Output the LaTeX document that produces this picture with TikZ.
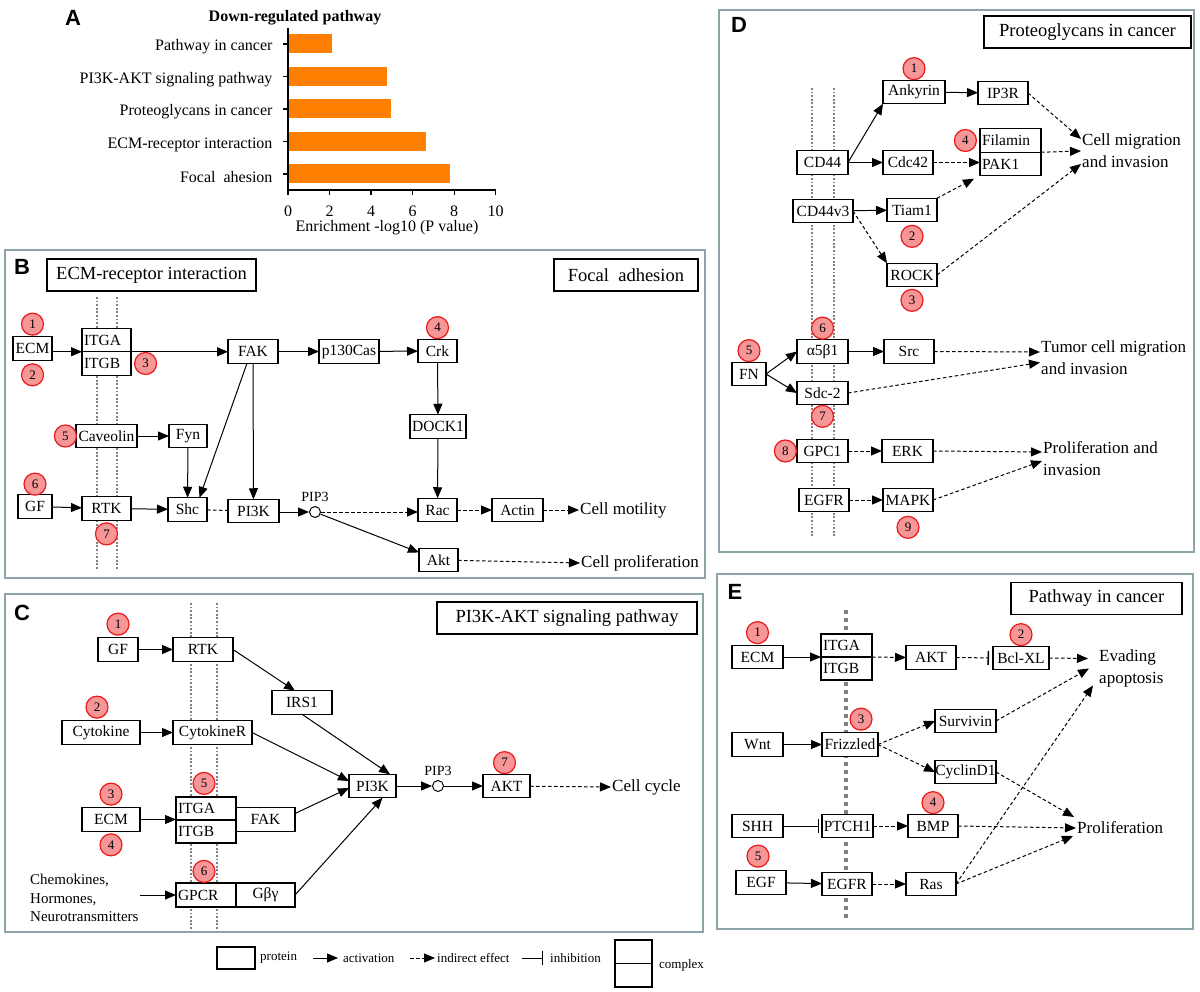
\documentclass[tikz,border=0pt]{standalone}
\usepackage{fontspec}
\setmainfont{Liberation Serif}
\newfontfamily\sansbold{Liberation Sans}
\usetikzlibrary{positioning,arrows.meta}

\definecolor{barorange}{RGB}{255,128,0}
\definecolor{framegray}{RGB}{140,163,168}
\definecolor{badgefill}{RGB}{246,150,150}
\definecolor{badgeline}{RGB}{235,25,25}

\newcommand{\boxfont}{\fontsize{15.5}{17}\selectfont}
\newcommand{\ttlfont}{\fontsize{18.5}{20}\selectfont}
\newcommand{\outfont}{\fontsize{17}{22}\selectfont}
\newcommand{\pipfont}{\fontsize{14}{16}\selectfont}
\newcommand{\legfont}{\fontsize{13}{14}\selectfont}
\newcommand{\chartfont}{\fontsize{16}{18}\selectfont}
\newcommand{\badgefont}{\fontsize{13}{13}\selectfont}

\begin{document}
\begin{tikzpicture}
  [x=1pt,y=-1pt,
   prot/.style={draw,fill=white,line width=1.4pt,minimum width=#1,minimum height=23.5pt,inner sep=0pt,outer sep=0pt,font=\boxfont},
   prot/.default=40pt,
   cpx/.style={draw,fill=white,line width=1.4pt,text width=#1,align=left,minimum height=23.5pt,inner xsep=2pt,inner ysep=0pt,outer sep=0pt,font=\boxfont},
   badge/.style={circle,draw=badgeline,fill=badgefill,line width=1.2pt,minimum size=22pt,inner sep=0pt,font=\badgefont},
   pip/.style={circle,draw,fill=white,line width=1pt,minimum size=11pt,inner sep=0pt},
   memb/.style={draw=gray,line width=1.8pt,dash pattern=on 1.8pt off 1.8pt},
   membE/.style={draw=gray,line width=4pt,dash pattern=on 4pt off 4pt},
   act/.style={line width=1pt,-{Triangle[length=11pt,width=9pt]}},
   ind/.style={line width=1pt,dash pattern=on 3.5pt off 2.5pt,-{Triangle[length=11pt,width=9pt]}},
   inh/.style={line width=1pt,-{Bar[width=14pt,line width=1.5pt]}},
   dashlink/.style={line width=1pt,dash pattern=on 3.5pt off 2.5pt},
   outtxt/.style={anchor=west,inner sep=1pt,align=left,font=\outfont},
   titlebox/.style={draw,line width=1.5pt,minimum height=32pt,inner sep=0pt,font=\ttlfont},
   panel/.style={draw=framegray,line width=1.6pt},
   letter/.style={font={\sansbold\bfseries\fontsize{22}{22}\selectfont}}]

  \useasboundingbox[fill=white] (0,0) rectangle (1200,992);

  % ---------------- A: bar chart
  \node[letter] (lA) at (73,18) {A};
  \node[font={\bfseries\fontsize{16}{18}\selectfont}] (ttlA) at (295,18) {Down-regulated pathway};
  \foreach \lab/\val [count=\i from 0] in {Pathway in cancer/2.1, PI3K-AKT signaling pathway/4.75,
      Proteoglycans in cancer/4.95, ECM-receptor interaction/6.65, Focal~~ahesion/7.8}{
    \fill[barorange] (288,{34.5+32.5*\i}) rectangle ({288+20.77*\val},{53.5+32.5*\i});
    \draw[line width=1.3pt] (283,{44+32.5*\i}) -- (288,{44+32.5*\i});
    \node[anchor=east,font=\chartfont] (catA\i) at (276,{47+32.5*\i}) {\lab};
  }
  \draw[line width=1.5pt] (288,28) -- (288,190) -- (496,190);
  \foreach \t in {0,2,...,10}{
    \draw[line width=1.3pt] ({288+20.77*\t},190) -- ({288+20.77*\t},195);
    \node[font=\chartfont] (tickA\t) at ({288+20.77*\t},211) {\t};
  }
  \node[font=\chartfont] (axA) at (387,228) {Enrichment -log10 (P value)};

  % ---------------- B: ECM-receptor interaction / focal adhesion
  \draw[panel] (5,250) rectangle (705,578);
  \node[letter] (lB) at (22,267) {B};
  \node[titlebox,minimum width=209pt] (ttlB) at (151.5,275) {ECM-receptor interaction};
  \node[titlebox,minimum width=144pt] (ttlB2) at (626,275) {Focal~~adhesion};
  \draw[memb] (97,297) -- (97,570);
  \draw[memb] (117,297) -- (117,570);

  \node[prot=39pt] (ecmB) at (32.5,348.5) {ECM};
  \node[cpx=45pt] (itgaB) at (106.5,340) {ITGA};
  \node[cpx=45pt,below=0pt of itgaB] (itgbB) {ITGB};
  \node[prot=50pt] (fakB) at (253,351.5) {FAK};
  \node[prot=60pt] (pcasB) at (349,351.5) {p130Cas};
  \node[prot=39pt] (crkB) at (437.5,351) {Crk};
  \node[prot=56pt] (dockB) at (438,426.5) {DOCK1};
  \node[prot=61pt] (cavB) at (106.5,436) {Caveolin};
  \node[prot=38pt] (fynB) at (188,436) {Fyn};
  \node[prot=34pt] (gfB) at (35,506.5) {GF};
  \node[prot=49pt] (rtkB) at (106.5,508.5) {RTK};
  \node[prot=39pt] (shcB) at (187.5,509.5) {Shc};
  \node[prot=51pt] (pikB) at (253.5,511) {PI3K};
  \node[pip,label={[font=\pipfont,inner sep=1pt,label distance=3pt]above:PIP3}] (pipB) at (315,512) {};
  \node[prot=39pt] (racB) at (437.5,510) {Rac};
  \node[prot=51pt] (actinB) at (517.5,510) {Actin};
  \node[prot=39pt] (aktB) at (438.5,560) {Akt};
  \node[outtxt] (motB) at (579,510) {Cell motility};
  \node[outtxt] (prolB) at (580,563) {Cell proliferation};

  \node[badge,above=1pt of ecmB] (b1B) {1};
  \node[badge,below=3pt of ecmB] (b2B) {2};
  \node[badge,right=3pt of itgbB] (b3B) {3};
  \node[badge,above=0pt of crkB] (b4B) {4};
  \node[badge,left=-1pt of cavB] (b5B) {5};
  \node[badge,above=-1pt of gfB] (b6B) {6};
  \node[badge,below=2pt of rtkB] (b7B) {7};

  \draw[act] (ecmB.east |- itgbB.north) -- (itgbB.north west);
  \draw[act] (itgbB.north east) -- (fakB.west |- itgbB.north);
  \draw[act] (fakB) -- (pcasB);
  \draw[act] (pcasB) -- (crkB);
  \draw[act] (crkB) -- (dockB);
  \draw[act] (dockB) -- (racB);
  \draw[act] ([xshift=-6pt]fakB.south) -- ([xshift=12pt]shcB.north);
  \draw[act] (fakB) -- (pikB);
  \draw[act] (cavB) -- (fynB);
  \draw[act] (fynB) -- (shcB);
  \draw[act] (gfB) -- (rtkB);
  \draw[act] (rtkB) -- (shcB);
  \draw[dashlink] (shcB) -- (pikB);
  \draw[act] (pikB.east |- pipB) -- (pipB);
  \draw[ind] (pipB) -- (pipB -| racB.west);
  \draw[act] (pipB) -- (aktB);
  \draw[ind] (racB) -- (actinB);
  \draw[ind] (actinB) -- (motB.west);
  \draw[ind] (aktB) -- (prolB.west);

  % ---------------- C: PI3K-AKT signaling pathway
  \draw[panel] (5,594) rectangle (703,932);
  \node[letter] (lC) at (22,613) {C};
  \node[titlebox,minimum width=260pt] (ttlC) at (567,618) {PI3K-AKT signaling pathway};
  \draw[memb] (191,603) -- (191,930);
  \draw[memb] (217,603) -- (217,930);

  \node[prot=40pt] (gfC) at (118,649.5) {GF};
  \node[prot=60pt] (rtkC) at (203,649.5) {RTK};
  \node[prot=60pt] (irsC) at (302,702.5) {IRS1};
  \node[prot=78pt] (cytC) at (101,732.5) {Cytokine};
  \node[prot=79pt] (cytrC) at (212.5,732.5) {CytokineR};
  \node[prot=58pt] (ecmC) at (111,819.5) {ECM};
  \node[cpx=56pt,minimum height=23pt] (itgaC) at (206,808.5) {ITGA};
  \node[cpx=56pt,minimum height=23pt,below=0pt of itgaC] (itgbC) {ITGB};
  \node[prot=59pt] (fakC) at (265.5,819.5) {FAK};
  \node[cpx=56pt,minimum height=24pt] (gpcrC) at (206,895) {GPCR};
  \node[prot=59pt,minimum height=24pt,right=0pt of gpcrC] (gbgC) {Gβγ};
  \node[prot=47pt] (pikC) at (372.5,786) {PI3K};
  \node[pip,label={[font=\pipfont,inner sep=1pt,label distance=3pt]above:PIP3}] (pipC) at (438,786) {};
  \node[prot=47pt] (aktC) at (506.5,786) {AKT};
  \node[outtxt] (cycC) at (611,787) {Cell cycle};
  \node[outtxt,font=\fontsize{15}{18.5}\selectfont] (chemC) at (29,898) {Chemokines,\\Hormones,\\Neurotransmitters};

  \node[badge,above=2pt of gfC] (b1C) {1};
  \node[badge,above=2pt of cytC,xshift=-4pt] (b2C) {2};
  \node[badge,above=2pt of ecmC] (b3C) {3};
  \node[badge,below=2pt of ecmC] (b4C) {4};
  \node[badge,above=2pt of itgaC,xshift=-2pt] (b5C) {5};
  \node[badge,above=0pt of gpcrC,xshift=-2pt] (b6C) {6};
  \node[badge,above=0pt of aktC,xshift=-2pt] (b7C) {7};

  \draw[act] (gfC) -- (rtkC);
  \draw[act] (rtkC.east) -- ([xshift=-7pt]irsC.north);
  \draw[act] (irsC.south) -- ([xshift=-6pt]pikC.north east);
  \draw[act] (cytC) -- (cytrC);
  \draw[act] (cytrC.east) -- ([yshift=5pt]pikC.west);
  \draw[act] (ecmC.east) -- (ecmC.east -| itgbC.west);
  \draw[act] ([yshift=6pt]fakC.east) -- ([yshift=-2pt]pikC.west);
  \draw[act] (chemC.east |- gpcrC.west) -- (gpcrC.west);
  \draw[act] (gbgC.east) -- ([xshift=10pt]pikC.south);
  \draw[act] (pikC) -- (pipC);
  \draw[act] (pipC) -- (aktC);
  \draw[ind] (aktC) -- (cycC.west);

  % ---------------- D: proteoglycans in cancer
  \draw[panel] (719,10) rectangle (1194,552);
  \node[letter] (lD) at (739,25) {D};
  \node[titlebox,minimum width=207pt] (ttlD) at (1087.5,32) {Proteoglycans in cancer};
  \draw[memb] (812,88) -- (812,538);
  \draw[memb] (834,88) -- (834,538);

  \node[prot=62pt] (ankD) at (914,92) {Ankyrin};
  \node[prot=50pt] (ip3D) at (1003,93) {IP3R};
  \node[cpx=57pt] (filD) at (1010.5,140.5) {Filamin};
  \node[cpx=57pt,below=0pt of filD] (pakD) {PAK1};
  \node[prot=51pt] (cd44D) at (822.5,162.5) {CD44};
  \node[prot=50pt] (cdcD) at (908,162.5) {Cdc42};
  \node[prot=60pt] (cdv3D) at (823,211) {CD44v3};
  \node[prot=50pt] (tiamD) at (912,210) {Tiam1};
  \node[prot=50pt] (rockD) at (912,275) {ROCK};
  \node[outtxt] (migD) at (1081,151) {Cell migration\\and invasion};
  \node[prot=34pt] (fnD) at (749,374) {FN};
  \node[prot=51pt] (a5D) at (822.5,351.5) {α5β1};
  \node[prot=50pt] (srcD) at (909,351.5) {Src};
  \node[prot=51pt] (sdcD) at (822.5,393) {Sdc-2};
  \node[prot=51pt] (gpcD) at (822.5,451) {GPC1};
  \node[prot=51pt] (erkD) at (907.5,451) {ERK};
  \node[prot=50pt] (egfrD) at (824,500) {EGFR};
  \node[prot=50pt] (mapkD) at (908,500) {MAPK};
  \node[outtxt] (tumD) at (1040,357.5) {Tumor cell migration\\and invasion};
  \node[outtxt] (prlD) at (1042,459) {Proliferation and\\invasion};

  \node[badge,above=0pt of ankD] (b1D) {1};
  \node[badge,below=3pt of tiamD] (b2D) {2};
  \node[badge,below=2pt of rockD] (b3D) {3};
  \node[badge,left=3pt of filD] (b4D) {4};
  \node[badge,above=0pt of fnD] (b5D) {5};
  \node[badge,above=0pt of a5D] (b6D) {6};
  \node[badge,below=0pt of sdcD] (b7D) {7};
  \node[badge,left=0pt of gpcD] (b8D) {8};
  \node[badge,below=4pt of mapkD] (b9D) {9};

  \draw[act] (cd44D.east) -- (ankD.south west);
  \draw[act] (ankD) -- (ip3D);
  \draw[ind] (ip3D.east) -- ([yshift=12pt]migD.west);
  \draw[act] (cd44D) -- (cdcD);
  \draw[ind] (cdcD.east) -- (cdcD.east -| pakD.west);
  \draw[ind] (pakD.north east) -- (migD.west);
  \draw[act] (cdv3D) -- (tiamD);
  \draw[ind] (tiamD.north east) -- ([xshift=-6pt,yshift=-3pt]pakD.south west);
  \draw[ind] (cdv3D.east) -- (rockD.north west);
  \draw[ind] (rockD.east) -- ([yshift=-13pt]migD.west);
  \draw[act] (fnD.east) -- (a5D.west);
  \draw[act] (fnD.east) -- (sdcD.west);
  \draw[act] (a5D) -- (srcD);
  \draw[ind] (srcD.east) -- ([yshift=5.5pt]tumD.west);
  \draw[ind] (sdcD.east) -- ([yshift=-5pt]tumD.west);
  \draw[ind] (gpcD) -- (erkD);
  \draw[ind] (erkD.east) -- ([yshift=7pt]prlD.west);
  \draw[ind] (egfrD) -- (mapkD);
  \draw[ind] (mapkD.east) -- ([yshift=-2pt]prlD.west);

  % ---------------- E: pathway in cancer
  \draw[panel] (717,574) rectangle (1193,929);
  \node[letter] (lE) at (735,592) {E};
  \node[titlebox,minimum width=171pt] (ttlE) at (1096.5,598.5) {Pathway in cancer};
  \draw[membE] (846,610) -- (846,920);

  \node[prot=51pt] (ecmE) at (757.5,657) {ECM};
  \node[cpx=47pt,minimum height=23pt] (itgaE) at (846.5,645.5) {ITGA};
  \node[cpx=47pt,minimum height=23pt,below=0pt of itgaE] (itgbE) {ITGB};
  \node[prot=50pt] (aktE) at (931,657.5) {AKT};
  \node[prot=56pt] (bclE) at (1021,658) {Bcl-XL};
  \node[outtxt] (evaE) at (1098,668.5) {Evading\\apoptosis};
  \node[prot=61pt] (survE) at (965.5,721) {Survivin};
  \node[prot=51pt] (wntE) at (757.5,744.5) {Wnt};
  \node[prot=56pt] (frizE) at (850,744.5) {Frizzled};
  \node[prot=61pt] (cycE) at (965.5,772) {CyclinD1};
  \node[prot=51pt] (shhE) at (757.5,826) {SHH};
  \node[prot=51pt] (ptcE) at (847.5,826) {PTCH1};
  \node[prot=50pt] (bmpE) at (933,826) {BMP};
  \node[outtxt] (proE) at (1076,828) {Proliferation};
  \node[prot=50pt] (egfE) at (761,882.5) {EGF};
  \node[prot=50pt] (egfrE) at (847,884) {EGFR};
  \node[prot=50pt] (rasE) at (931,884) {Ras};

  \node[badge,above=1pt of ecmE] (b1E) {1};
  \node[badge,above=0pt of bclE] (b2E) {2};
  \node[badge,above=2pt of frizE,xshift=11pt] (b3E) {3};
  \node[badge,above=0pt of bmpE] (b4E) {4};
  \node[badge,above=3pt of egfE,xshift=-3pt] (b5E) {5};

  \draw[act] (ecmE.east) -- (ecmE.east -| itgbE.west);
  \draw[ind] (itgbE.north east) -- (aktE.west);
  \draw[inh,dash pattern=on 3.5pt off 2.5pt,shorten >=4pt] (aktE) -- (bclE);
  \draw[ind] (bclE.east) -- ([xshift=-10pt,yshift=10pt]evaE.west);
  \draw[act] (wntE) -- (frizE);
  \draw[ind] (frizE.east) -- (survE.west);
  \draw[ind] (frizE.east) -- (cycE.west);
  \draw[ind] (survE.east) -- ([xshift=-9pt]evaE.west);
  \draw[ind] (cycE.east) -- ([xshift=-2pt,yshift=11pt]proE.west);
  \draw[inh,shorten >=3pt] (shhE) -- (ptcE);
  \draw[ind] (ptcE) -- (bmpE);
  \draw[ind] (bmpE.east) -- (proE.west);
  \draw[act] (egfE) -- (egfrE);
  \draw[ind] (egfrE) -- (rasE);
  \draw[ind] (rasE.east) -- ([xshift=-5pt,yshift=-17pt]evaE.west);
  \draw[ind] (rasE.east) -- ([xshift=-3pt,yshift=-8pt]proE.west);

  % ---------------- legend
  \node[prot=38pt,minimum height=22pt] (lgProt) at (236,958) {};
  \node[outtxt,font=\legfont] (lgProtT) at (259,958) {protein};
  \coordinate (lgActS) at (313,958);
  \node[outtxt,font=\legfont] (lgActT) at (342,958) {activation};
  \draw[act,shorten >=4pt] (lgActS) -- (lgActT.west);
  \coordinate (lgIndS) at (410,958);
  \node[outtxt,font=\legfont] (lgIndT) at (436,958) {indirect effect};
  \draw[ind,shorten >=1pt] (lgIndS) -- (lgIndT.west);
  \coordinate (lgInhS) at (522,958);
  \node[outtxt,font=\legfont] (lgInhT) at (549,958) {inhibition};
  \draw[inh,shorten >=6pt] (lgInhS) -- (lgInhT.west);
  \node[prot=37pt] (lgCx1) at (633.5,951.75) {};
  \node[prot=37pt,below=0pt of lgCx1] (lgCx2) {};
  \node[outtxt,font=\legfont] (lgCxT) at (658,965) {complex};
\end{tikzpicture}
\end{document}
